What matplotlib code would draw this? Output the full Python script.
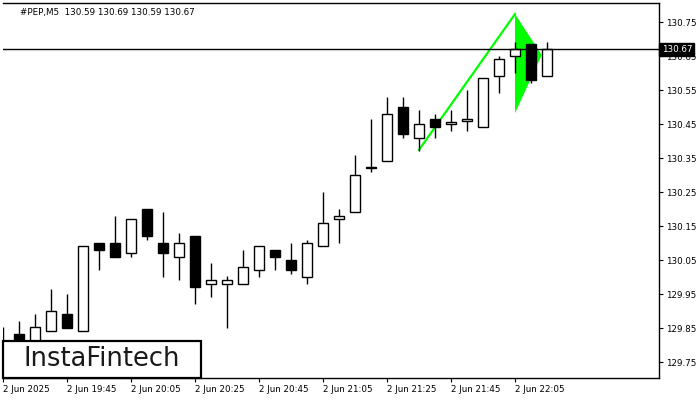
import matplotlib
matplotlib.use('Agg')
import matplotlib.pyplot as plt
from matplotlib.patches import Rectangle
from matplotlib.transforms import blended_transform_factory

# PEP M5 candles, 19:25 .. 22:15
opens  = [129.80, 129.832, 129.80, 129.84, 129.89, 129.84, 130.10, 130.10, 130.07, 130.20,
          130.10, 130.06, 130.12, 129.98, 129.98, 129.98, 130.02, 130.08, 130.05, 130.00,
          130.09, 130.17, 130.19, 130.32, 130.34, 130.50, 130.41, 130.465, 130.45, 130.46,
          130.44, 130.59, 130.65, 130.685, 130.59]
highs  = [129.853, 129.87, 129.89, 129.965, 129.95, 130.09, 130.10, 130.18, 130.17, 130.20,
          130.19, 130.13, 130.12, 130.04, 130.003, 130.08, 130.09, 130.08, 130.10, 130.11,
          130.25, 130.20, 130.36, 130.465, 130.53, 130.53, 130.49, 130.48, 130.49, 130.55,
          130.585, 130.65, 130.69, 130.685, 130.69]
lows   = [129.76, 129.78, 129.79, 129.84, 129.85, 129.84, 130.02, 130.06, 130.06, 130.11,
          130.00, 129.99, 129.92, 129.94, 129.85, 129.98, 130.00, 130.02, 130.01, 129.98,
          130.09, 130.10, 130.19, 130.31, 130.34, 130.41, 130.37, 130.41, 130.43, 130.43,
          130.44, 130.54, 130.60, 130.57, 130.59]
closes = [129.79, 129.80, 129.853, 129.90, 129.85, 130.09, 130.08, 130.06, 130.17, 130.12,
          130.07, 130.10, 129.97, 129.99, 129.99, 130.03, 130.09, 130.06, 130.02, 130.10,
          130.16, 130.18, 130.30, 130.325, 130.48, 130.42, 130.45, 130.44, 130.455, 130.465,
          130.585, 130.64, 130.67, 130.58, 130.67]

tick_labels = ['2 Jun 2025', '2 Jun 19:45', '2 Jun 20:05', '2 Jun 20:25', '2 Jun 20:45',
               '2 Jun 21:05', '2 Jun 21:25', '2 Jun 21:45', '2 Jun 22:05']
price_ticks = [129.75, 129.85, 129.95, 130.05, 130.15, 130.25, 130.35, 130.45, 130.55, 130.65, 130.75]

# bullish pennant
pole_x = [26, 32]
pole_y = [130.374, 130.7735]
flag_x = [32, 33.67, 32]
flag_y = [130.7735, 130.653, 130.482]

last_price = 130.67
title = '#PEP,M5  130.59 130.69 130.59 130.67'

plt.rcParams['font.family'] = 'DejaVu Sans'

fig = plt.figure(figsize=(7, 4), dpi=100)
ax = fig.add_axes([3 / 700, 22 / 400, 656 / 700, 375 / 400])

ax.fill(flag_x, flag_y, color='#00ff00', lw=0, zorder=1)
ax.plot(pole_x, pole_y, color='#00ff00', lw=1.6, zorder=1)

for i in range(len(opens)):
    o, h, l, c = opens[i], highs[i], lows[i], closes[i]
    ax.vlines(i, l, h, color='black', lw=1, zorder=2)
    face = 'white' if c >= o else 'black'
    ax.bar(i, max(abs(c - o), 0.0005), bottom=min(o, c), width=0.66,
           color=face, edgecolor='black', lw=1, zorder=3)

ax.axhline(last_price, color='black', lw=1, zorder=4)

ax.set_xlim(0, 41)
ax.set_ylim(129.703, 130.806)

ax.yaxis.tick_right()
ax.set_yticks(price_ticks)
ax.set_yticklabels(['%.2f' % p for p in price_ticks])
ax.set_xticks(list(range(0, 33, 4)))
ax.set_xticklabels(tick_labels, ha='left')
ax.tick_params(axis='both', labelsize=6.3, length=3, width=0.8, direction='out', pad=2)
ax.spines['left'].set_visible(False)
for s in ['top', 'right', 'bottom']:
    ax.spines[s].set_linewidth(1)

trans = blended_transform_factory(ax.transAxes, ax.transData)
ax.text(1.004, last_price, '%.2f' % last_price, transform=trans, color='white',
        fontsize=6.3, va='center', ha='left', zorder=10,
        bbox=dict(boxstyle='square,pad=0.25', fc='black', ec='black'))

ax.text(17 / 656, 1 - 9 / 375, title, transform=ax.transAxes, fontsize=6.3,
        va='center', ha='left')

# logo box
fig.patches.append(Rectangle((3 / 700, 22 / 400), 198 / 700, 37 / 400, transform=fig.transFigure,
                             fc='white', ec='black', lw=1.6, zorder=20))
fig.text(102 / 700, 1 - 359 / 400, 'InstaFintech', fontsize=18.5, color='#1a1a1a',
         ha='center', va='center', zorder=21)

fig.savefig('out.png', dpi=100)
